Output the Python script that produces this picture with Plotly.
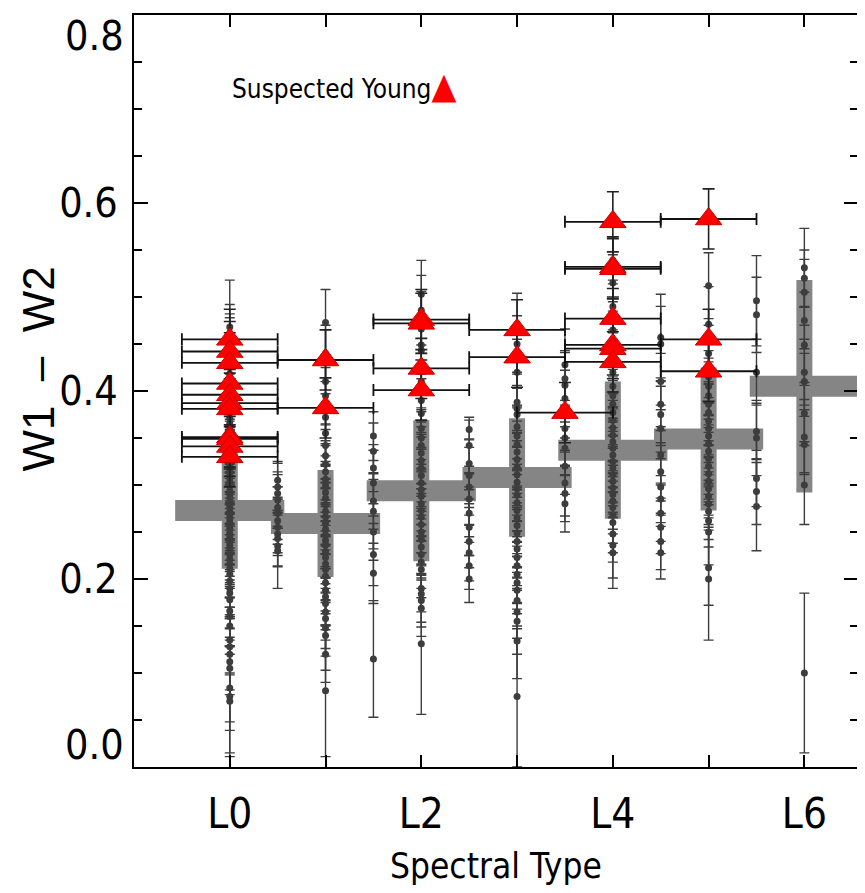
import plotly.graph_objects as go

# gray crosses: mean W1-W2 per spectral type and its scatter
avg_spt = [0, 1, 2, 3, 4, 5, 6]
avg_w12 = [0.273, 0.259, 0.294, 0.308, 0.337, 0.349, 0.405]
avg_sig = [0.062, 0.057, 0.075, 0.063, 0.073, 0.076, 0.113]

# field objects, one column per (half) spectral type
field_spt = [0, 0.5, 1, 1.5, 2, 2.5, 3, 3.5, 4, 4.5, 5, 5.5, 6]

L0_y = [0.468, 0.452, 0.437, 0.425, 0.418, 0.409, 0.401, 0.396, 0.389, 0.383, 0.377, 0.371, 0.366,
        0.361, 0.357, 0.352, 0.348, 0.343, 0.338, 0.334, 0.329, 0.325, 0.321, 0.316, 0.312, 0.307,
        0.303, 0.299, 0.294, 0.290, 0.286, 0.281, 0.277, 0.272, 0.268, 0.263, 0.259, 0.254, 0.249,
        0.245, 0.240, 0.236, 0.231, 0.226, 0.221, 0.216, 0.211, 0.205, 0.198, 0.190, 0.185, 0.178,
        0.166, 0.160, 0.150, 0.135, 0.128, 0.120, 0.112, 0.105, 0.084, 0.075, 0.070]
L0_e = [0.05, 0.04, 0.045, 0.035, 0.06, 0.03, 0.04, 0.028, 0.05, 0.03, 0.025, 0.035, 0.03,
        0.02, 0.028, 0.03, 0.022, 0.03, 0.025, 0.02, 0.03, 0.025, 0.02, 0.03, 0.022, 0.026,
        0.02, 0.03, 0.025, 0.02, 0.028, 0.022, 0.03, 0.02, 0.025, 0.03, 0.02, 0.026, 0.022,
        0.03, 0.025, 0.02, 0.028, 0.03, 0.022, 0.026, 0.03, 0.025, 0.028, 0.03, 0.025, 0.03,
        0.028, 0.032, 0.03, 0.035, 0.03, 0.038, 0.035, 0.057, 0.045, 0.06, 0.059]
L05_y = [0.305, 0.298, 0.291, 0.284, 0.276, 0.270, 0.262, 0.255, 0.248, 0.243, 0.235, 0.230]
L05_e = [0.02, 0.025, 0.02, 0.03, 0.022, 0.028, 0.025, 0.03, 0.02, 0.03, 0.021, 0.04]
L1_y = [0.473, 0.440, 0.410, 0.395, 0.372, 0.355, 0.342, 0.331, 0.322, 0.314, 0.306, 0.299, 0.292,
        0.286, 0.279, 0.272, 0.266, 0.259, 0.253, 0.247, 0.241, 0.236, 0.229, 0.223, 0.216, 0.210,
        0.203, 0.196, 0.188, 0.181, 0.174, 0.165, 0.158, 0.148, 0.140, 0.120, 0.081]
L1_e = [0.035, 0.03, 0.028, 0.03, 0.025, 0.03, 0.022, 0.028, 0.02, 0.03, 0.025, 0.022, 0.03,
        0.02, 0.028, 0.025, 0.03, 0.022, 0.026, 0.02, 0.03, 0.025, 0.028, 0.022, 0.03, 0.025,
        0.028, 0.03, 0.025, 0.03, 0.028, 0.03, 0.032, 0.03, 0.037, 0.03, 0.07]
L15_y = [0.352, 0.336, 0.318, 0.302, 0.283, 0.272, 0.250, 0.226, 0.206, 0.115]
L15_e = [0.026, 0.03, 0.025, 0.035, 0.03, 0.04, 0.03, 0.033, 0.032, 0.062]
L2_y = [0.503, 0.486, 0.466, 0.449, 0.443, 0.410, 0.390, 0.376, 0.360, 0.350, 0.342, 0.334, 0.326,
        0.318, 0.310, 0.302, 0.295, 0.288, 0.280, 0.273, 0.266, 0.258, 0.250, 0.242, 0.234, 0.226,
        0.218, 0.210, 0.190, 0.184, 0.177, 0.169, 0.131]
L2_e = [0.036, 0.037, 0.04, 0.03, 0.03, 0.03, 0.028, 0.025, 0.022, 0.028, 0.025, 0.02, 0.03,
        0.022, 0.028, 0.025, 0.02, 0.03, 0.022, 0.028, 0.025, 0.03, 0.022, 0.026, 0.03, 0.025,
        0.028, 0.03, 0.025, 0.03, 0.028, 0.03, 0.075]
L25_y = [0.359, 0.342, 0.323, 0.310, 0.298, 0.285, 0.270, 0.255, 0.240, 0.228, 0.214, 0.200]
L25_e = [0.01, 0.03, 0.025, 0.03, 0.022, 0.028, 0.025, 0.03, 0.028, 0.03, 0.025, 0.025]
L3_y = [0.470, 0.450, 0.420, 0.388, 0.381, 0.375, 0.362, 0.352, 0.343, 0.335, 0.327, 0.319, 0.311,
        0.303, 0.296, 0.289, 0.281, 0.273, 0.265, 0.257, 0.249, 0.240, 0.232, 0.223, 0.214, 0.205,
        0.196, 0.188, 0.177, 0.165, 0.155, 0.134, 0.075]
L3_e = [0.034, 0.03, 0.035, 0.03, 0.025, 0.028, 0.022, 0.03, 0.025, 0.02, 0.028, 0.022, 0.03,
        0.025, 0.02, 0.028, 0.03, 0.022, 0.026, 0.03, 0.025, 0.028, 0.03, 0.022, 0.026, 0.03,
        0.028, 0.025, 0.03, 0.028, 0.035, 0.04, 0.075]
L35_y = [0.428, 0.413, 0.406, 0.392, 0.360, 0.350, 0.339, 0.320, 0.302, 0.291, 0.280]
L35_e = [0.038, 0.03, 0.035, 0.03, 0.025, 0.03, 0.028, 0.03, 0.035, 0.03, 0.03]
L4_y = [0.539, 0.515, 0.490, 0.465, 0.440, 0.420, 0.405, 0.395, 0.386, 0.377, 0.369, 0.361, 0.353,
        0.346, 0.339, 0.332, 0.325, 0.318, 0.311, 0.304, 0.297, 0.290, 0.283, 0.276, 0.268, 0.260,
        0.248, 0.236, 0.228]
L4_e = [0.025, 0.03, 0.028, 0.03, 0.025, 0.03, 0.022, 0.028, 0.025, 0.02, 0.03, 0.022, 0.028,
        0.025, 0.03, 0.02, 0.028, 0.025, 0.03, 0.022, 0.028, 0.025, 0.03, 0.028, 0.03, 0.032,
        0.03, 0.035, 0.038]
L45_y = [0.457, 0.450, 0.410, 0.386, 0.375, 0.360, 0.332, 0.314, 0.298, 0.285, 0.270, 0.255, 0.240, 0.228]
L45_e = [0.046, 0.04, 0.03, 0.028, 0.03, 0.025, 0.03, 0.028, 0.03, 0.025, 0.03, 0.028, 0.03, 0.028]
L5_y = [0.512, 0.471, 0.440, 0.415, 0.405, 0.395, 0.386, 0.377, 0.368, 0.360, 0.352, 0.344, 0.336,
        0.328, 0.320, 0.312, 0.304, 0.296, 0.288, 0.280, 0.272, 0.262, 0.250, 0.212, 0.200]
L5_e = [0.035, 0.04, 0.03, 0.028, 0.03, 0.025, 0.022, 0.03, 0.025, 0.028, 0.022, 0.03, 0.025,
        0.028, 0.022, 0.03, 0.025, 0.028, 0.03, 0.025, 0.03, 0.028, 0.035, 0.04, 0.065]
L55_y = [0.496, 0.481, 0.420, 0.357, 0.350, 0.307, 0.293, 0.277]
L55_e = [0.048, 0.04, 0.035, 0.03, 0.04, 0.03, 0.035, 0.047]
L6_y = [0.531, 0.520, 0.505, 0.475, 0.449, 0.420, 0.410, 0.376, 0.351, 0.343, 0.300, 0.100]
L6_e = [0.042, 0.03, 0.035, 0.03, 0.04, 0.035, 0.03, 0.03, 0.04, 0.03, 0.042, 0.085]

field_y = [L0_y, L05_y, L1_y, L15_y, L2_y, L25_y, L3_y, L35_y, L4_y, L45_y, L5_y, L55_y, L6_y]
field_e = [L0_e, L05_e, L1_e, L15_e, L2_e, L25_e, L3_e, L35_e, L4_e, L45_e, L5_e, L55_e, L6_e]

# suspected young objects (red triangles)
young_spt = [0, 0, 0, 0, 0, 0, 0, 0, 0, 0, 0, 1, 1, 2, 2, 2, 2, 3, 3, 3.5,
             4, 4, 4, 4, 4, 4, 4, 5, 5, 5]
young_w12 = [0.455, 0.442, 0.430, 0.408, 0.396, 0.387, 0.381, 0.351, 0.349, 0.341, 0.330,
             0.433, 0.382, 0.476, 0.472, 0.424, 0.401, 0.465, 0.436, 0.377,
             0.580, 0.532, 0.530, 0.477, 0.449, 0.445, 0.431, 0.583, 0.455, 0.421]
young_err = [0.032] * len(young_w12)
young_spt_err = [0.5] * len(young_w12)

y_ticks = [0, 0.2, 0.4, 0.6, 0.8]
y_ticktext = ['0.0', '0.2', '0.4', '0.6', '0.8']
x_ticks = [0, 1, 2, 3, 4, 5, 6]
x_ticktext = ['L0', '', 'L2', '', 'L4', '', 'L6']

GRAY = '#858585'
DARK = '#3d3d3d'
NARROW = "'DejaVu Sans Condensed', 'Liberation Sans Narrow', sans-serif"

fig = go.Figure()

# vertical gray bars (scatter of each type)
fig.add_trace(go.Scatter(
    x=avg_spt, y=avg_w12, mode='markers', marker=dict(size=1, opacity=0),
    error_y=dict(type='data', array=avg_sig, color=GRAY, thickness=16, width=0),
    showlegend=False, hoverinfo='skip'))
# horizontal gray bars (mean per type)
fig.add_trace(go.Scatter(
    x=avg_spt, y=avg_w12, mode='markers', marker=dict(size=1, opacity=0),
    error_x=dict(type='constant', value=0.57, color=GRAY, thickness=21, width=0),
    showlegend=False, hoverinfo='skip'))

# field objects
for spt, ys, es in zip(field_spt, field_y, field_e):
    fig.add_trace(go.Scatter(
        x=[spt] * len(ys), y=ys, mode='markers',
        marker=dict(size=7, color=DARK, symbol='circle'),
        error_y=dict(type='data', array=es, color=DARK, thickness=1.4, width=5),
        showlegend=False))

# suspected young
fig.add_trace(go.Scatter(
    x=young_spt, y=young_w12, mode='markers',
    marker=dict(size=23, symbol='triangle-up', color='#ff0000',
                line=dict(color='#cc0000', width=1)),
    error_x=dict(type='data', array=young_spt_err, color='#111111', thickness=1.8, width=6),
    error_y=dict(type='data', array=young_err, color='#222222', thickness=1.6, width=6),
    showlegend=False))

# legend text
fig.add_annotation(
    xref='paper', yref='paper', x=0.133, y=0.906, xanchor='left', yanchor='middle',
    text='Suspected Young<span style="color:#ff0000;font-size:36px">\u25B2</span>',
    showarrow=False, font=dict(family=NARROW, size=26, color='black'))

# end labels of the y axis sit inside the frame, as in the original
fig.add_annotation(xref='paper', yref='y', x=0, y=y_ticks[-1], xanchor='right', yanchor='top',
                   xshift=-8, yshift=5, text=y_ticktext[-1], showarrow=False,
                   font=dict(family=NARROW, size=41, color='black'))
fig.add_annotation(xref='paper', yref='y', x=0, y=y_ticks[0], xanchor='right', yanchor='middle',
                   xshift=-8, yshift=22, text=y_ticktext[0], showarrow=False,
                   font=dict(family=NARROW, size=41, color='black'))

# axis titles
fig.add_annotation(xref='paper', yref='paper', x=0.5, y=-0.131, xanchor='center', yanchor='middle',
                   text='Spectral Type', showarrow=False,
                   font=dict(family=NARROW, size=35, color='black'))
fig.add_annotation(xref='paper', yref='paper', x=-0.132, y=0.529, xanchor='center', yanchor='middle',
                   text='W1 \u00a0\u2013\u00a0 W2', textangle=-90, showarrow=False,
                   font=dict(family='Liberation Sans, Arial, sans-serif', size=44, color='black'))

# page body has an 8px margin, so the figure is shifted by 8px
fig.update_layout(
    width=857, height=885,
    margin=dict(l=126, r=6, t=5, b=126),
    paper_bgcolor='white', plot_bgcolor='white',
    font=dict(family=NARROW, color='black'),
    xaxis=dict(
        range=[-1, 6.56], tickvals=x_ticks, ticktext=x_ticktext,
        ticks='inside', ticklen=12, tickwidth=2, tickcolor='black',
        showline=True, linecolor='black', linewidth=2, mirror='ticks',
        showgrid=False, zeroline=False, ticklabelstandoff=9,
        tickfont=dict(family=NARROW, size=42)),
    yaxis=dict(
        range=[0, 0.8], tickvals=y_ticks,
        ticktext=[''] + y_ticktext[1:-1] + [''],
        ticks='inside', ticklen=14, tickwidth=2, tickcolor='black',
        minor=dict(dtick=0.05, ticks='inside', ticklen=8, tickwidth=2, tickcolor='black'),
        showline=True, linecolor='black', linewidth=2, mirror='ticks',
        showgrid=False, zeroline=False, ticklabelstandoff=6,
        tickfont=dict(family=NARROW, size=41)),
)

fig.write_html("out.html")
